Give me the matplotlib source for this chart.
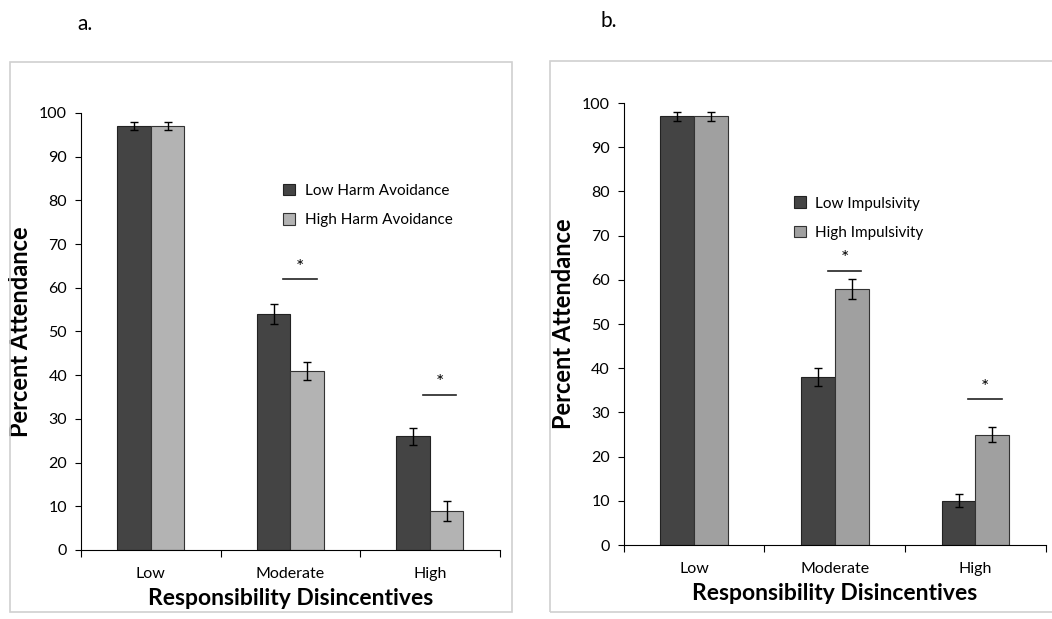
import matplotlib.pyplot as plt
from matplotlib.patches import Rectangle

plt.rcParams["font.family"] = ["Lato", "DejaVu Sans"]

categories = ["Low", "Moderate", "High"]

# panel a: harm avoidance
harm_low = [97, 54, 26]
harm_low_err = [1.0, 2.3, 2.0]
harm_high = [97, 41, 9]
harm_high_err = [1.0, 2.0, 2.3]
harm_sig = [None, 62, 35.5]

# panel b: impulsivity
imp_low = [97, 38, 10]
imp_low_err = [1.0, 2.0, 1.5]
imp_high = [97, 58, 25]
imp_high_err = [1.0, 2.3, 1.8]
imp_sig = [None, 62, 33]

dark = "#444444"
fig = plt.figure(figsize=(10.52, 6.19), dpi=100)

# outer chart-area boxes
for x0, y0, w, h in [(10, 7, 502, 550), (550, 7, 510, 551)]:
    fig.patches.append(Rectangle((x0 / 1052, y0 / 619), w / 1052, h / 619,
                                 transform=fig.transFigure, fill=False,
                                 edgecolor="#d0d0d0", linewidth=1.2))


def panel(rect, low, low_err, high, high_err, sig, light, labels, leg_pos, ylpad):
    ax = fig.add_axes(rect)
    x = range(len(categories))
    w = 0.24
    ax.bar([i - w / 2 for i in x], low, w, yerr=low_err, color=dark,
           edgecolor="#222222", linewidth=0.8, capsize=3,
           error_kw=dict(elinewidth=1, capthick=1), label=labels[0])
    ax.bar([i + w / 2 for i in x], high, w, yerr=high_err, color=light,
           edgecolor="#333333", linewidth=0.8, capsize=3,
           error_kw=dict(elinewidth=1, capthick=1), label=labels[1])
    for i, s in enumerate(sig):
        if s is None:
            continue
        ax.plot([i - 0.05, i + 0.19], [s, s], color="#222222", lw=1.2)
        ax.text(i + 0.07, s + 0.8, "*", ha="center", va="bottom", fontsize=14)
    ax.set_xlim(-0.5, 2.5)
    ax.set_ylim(0, 100)
    ax.set_yticks(range(0, 101, 10))
    ax.set_xticks([-0.5, 0.5, 1.5, 2.5])
    ax.set_xticklabels([])
    ax.set_xticks(list(x), minor=True)
    ax.set_xticklabels(categories, minor=True)
    ax.tick_params(axis="x", which="major", length=5, direction="out")
    ax.tick_params(axis="x", which="minor", length=0, pad=12, labelsize=11.5)
    ax.tick_params(axis="y", length=4, labelsize=11.5, pad=6)
    for sp in ["top", "right"]:
        ax.spines[sp].set_visible(False)
    ax.set_ylabel("Percent Attendance", fontsize=17, fontweight="bold", labelpad=ylpad)
    ax.set_xlabel("Responsibility Disincentives", fontsize=16.5, fontweight="bold", labelpad=5)
    ax.legend(loc="upper left", bbox_to_anchor=leg_pos, frameon=False,
              fontsize=11, handlelength=0.8, handleheight=0.8,
              labelspacing=1.0, handletextpad=0.6)
    return ax


panel([0.077, 0.1115, 0.398, 0.706], harm_low, harm_low_err, harm_high,
      harm_high_err, harm_sig, "#b3b3b3",
      ["Low Harm Avoidance", "High Harm Avoidance"], (0.45, 0.87), 5)
panel([0.593, 0.1195, 0.401, 0.714], imp_low, imp_low_err, imp_high,
      imp_high_err, imp_sig, "#a0a0a0",
      ["Low Impulsivity", "High Impulsivity"], (0.37, 0.82), 5)

fig.text(77 / 1052, 1 - 24 / 619, "a.", fontsize=15, va="center")
fig.text(600 / 1052, 1 - 21 / 619, "b.", fontsize=15, va="center")

fig.savefig("out.png", dpi=100, facecolor="white")
